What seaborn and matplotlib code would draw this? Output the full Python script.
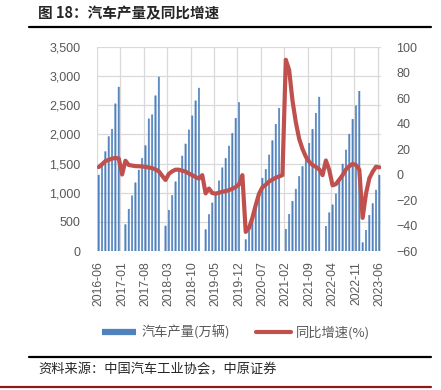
import numpy as np
import pandas as pd
import matplotlib
matplotlib.use("Agg")
import matplotlib.pyplot as plt
from matplotlib.lines import Line2D
import seaborn as sns

sns.set_style("white")
plt.rcParams['font.family'] = ['Liberation Sans', 'Noto Sans CJK SC', 'DejaVu Sans']

nan = np.nan

# 汽车产量（累计，万辆），每年从1月开始；1月缺失时为 nan
prod_2016 = [1303, 1470, 1705, 1963, 2090, 2526, 2813]  # 6-12月
prod_2017 = [nan, 453, 718, 947, 1171, 1389, 1590, 1808, 2268, 2337, 2664, 2985]
prod_2018 = [nan, 430, 700, 953, 1188, 1418, 1630, 1837, 2078, 2319, 2577, 2796]
prod_2019 = [nan, 368, 626, 826, 1000, 1204, 1428, 1590, 1801, 2020, 2278, 2549]
prod_2020 = [nan, 196, 350, 560, 770, 1010, 1250, 1400, 1648, 1894, 2176, 2451]
prod_2021 = [nan, 373, 631, 855, 1062, 1280, 1450, 1590, 1848, 2090, 2365, 2641]
prod_2022 = [nan, 425, 657, 792, 980, 1211, 1492, 1734, 2005, 2262, 2493, 2743]
prod_2023 = [144, 356, 614, 815, 1045, 1303]  # 1-6月

# 同比增速（%）
yoy_2016 = [5.8, 8.0, 10.5, 11.5, 12.5, 13.0, 12.6]
yoy_2017 = [0.0, 10.8, 7.5, 7.0, 6.6, 6.5, 6.3, 6.0, 5.5, 5.0, 4.0, 2.5]
yoy_2018 = [-1.0, -4.3, 0.5, 2.5, 3.8, 3.8, 3.0, 2.3, 0.8, -0.5, -2.0, -3.2]
yoy_2019 = [-0.5, -14.8, -11.0, -14.5, -15.0, -14.3, -13.5, -13.0, -12.2, -11.2, -9.8, -7.8]
yoy_2020 = [-0.5, -45.0, -42.0, -34.0, -24.0, -15.0, -10.0, -8.0, -5.5, -4.0, -2.5, -1.5]
yoy_2021 = [-0.5, 90.0, 82.0, 58.0, 41.0, 28.0, 20.0, 14.0, 10.0, 7.5, 6.0, 4.0]
yoy_2022 = [-0.5, 11.0, 3.5, -8.5, -7.5, -4.0, -0.5, 4.0, 6.5, 8.3, 7.5, 3.8]
yoy_2023 = [-34.0, -15.0, -3.0, 2.2, 6.1, 5.6]

months = pd.period_range("2016-06", "2023-06", freq="M").strftime("%Y-%m").tolist()
tick_labels = months[::7]

prod = (prod_2016 + prod_2017 + prod_2018 + prod_2019 + prod_2020
        + prod_2021 + prod_2022 + prod_2023)
yoy = (yoy_2016 + yoy_2017 + yoy_2018 + yoy_2019 + yoy_2020
       + yoy_2021 + yoy_2022 + yoy_2023)

df = pd.DataFrame({"month": months, "pos": range(len(months)), "prod": prod, "yoy": yoy})

bar_color = "#4f81bd"
line_color = "#c0504d"
text_gray = "#595959"
grid_gray = "#d9d9d9"

fig = plt.figure(figsize=(4.41, 3.90), dpi=100)
ax = fig.add_axes([0.22, 0.3564, 0.644, 0.523])

sns.barplot(data=df, x="month", y="prod", order=months, color=bar_color,
            width=0.4, saturation=1, ax=ax)
# 细柱子在低分辨率下需要关闭像素对齐，否则会消失
for p in ax.patches:
    p.set_snap(False)
    p.set_edgecolor(bar_color)
    p.set_linewidth(0.35)

ax.set_xlim(-0.5, len(months) - 0.5)
ax.set_ylim(0, 3500)
ax.set_yticks(range(0, 3501, 500))
ax.set_yticklabels([f"{v:,}" for v in range(0, 3501, 500)])
ax.set_xticks(range(0, len(months), 7))
ax.set_xticklabels(tick_labels, rotation=90)
ax.set_xticks(np.arange(-0.5, len(months), 7), minor=True)
ax.set_xlabel("")
ax.set_ylabel("")
ax.set_axisbelow(True)
ax.yaxis.grid(True, color=grid_gray, lw=0.9)
ax.xaxis.grid(True, which="minor", color=grid_gray, lw=0.9)
ax.xaxis.grid(False, which="major")
ax.tick_params(which="both", length=0)
ax.tick_params(axis="y", pad=12, labelsize=9, labelcolor=text_gray)
ax.tick_params(axis="x", pad=7.5, labelsize=8.8, labelcolor=text_gray)
for s in ax.spines.values():
    s.set_visible(False)

ax2 = ax.twinx()
sns.lineplot(data=df, x="pos", y="yoy", color=line_color, lw=3, ax=ax2,
             solid_joinstyle="round", solid_capstyle="round")
ax2.set_xlim(-0.5, len(months) - 0.5)
ax2.set_ylim(-60, 100)
ax2.set_yticks(range(-60, 101, 20))
ax2.set_ylabel("")
ax2.set_xlabel("")
ax2.tick_params(length=0, pad=11, labelsize=9, labelcolor=text_gray)
for s in ax2.spines.values():
    s.set_visible(False)

# 标题与分隔线
fig.text(38 / 441, 1 - 13 / 390, "图 18：汽车产量及同比增速", fontsize=10.5,
         fontweight="bold", va="center", ha="left",
         family=["Noto Sans CJK SC", "DejaVu Sans"])
fig.add_artist(Line2D([29 / 441, 431 / 441], [1 - 27 / 390] * 2, color="black", lw=1.6))

handles = [Line2D([], [], color=bar_color, lw=4.5, solid_capstyle="butt"),
           Line2D([], [], color=line_color, lw=3, solid_capstyle="round")]
leg = fig.legend(handles, ["汽车产量(万辆)", "同比增速(%)"], loc="center",
                 bbox_to_anchor=(236 / 441, 1 - 332 / 390), ncol=2, frameon=False,
                 handlelength=2.6, handletextpad=0.4, columnspacing=2.0,
                 prop={"family": ["Noto Sans CJK SC", "DejaVu Sans"], "size": 9.5})
for t in leg.get_texts():
    t.set_color(text_gray)

fig.add_artist(Line2D([29 / 441, 431 / 441], [1 - 357 / 390] * 2, color="black", lw=1.6))
fig.text(38 / 441, 1 - 370 / 390, "资料来源：中国汽车工业协会，中原证券", fontsize=9.5,
         va="center", ha="left", family=["Noto Sans CJK SC", "DejaVu Sans"])
fig.add_artist(Line2D([0, 431 / 441], [1 - 387 / 390] * 2, color="#8b1a1a", lw=1.6))

fig.savefig("out.png", dpi=100)
